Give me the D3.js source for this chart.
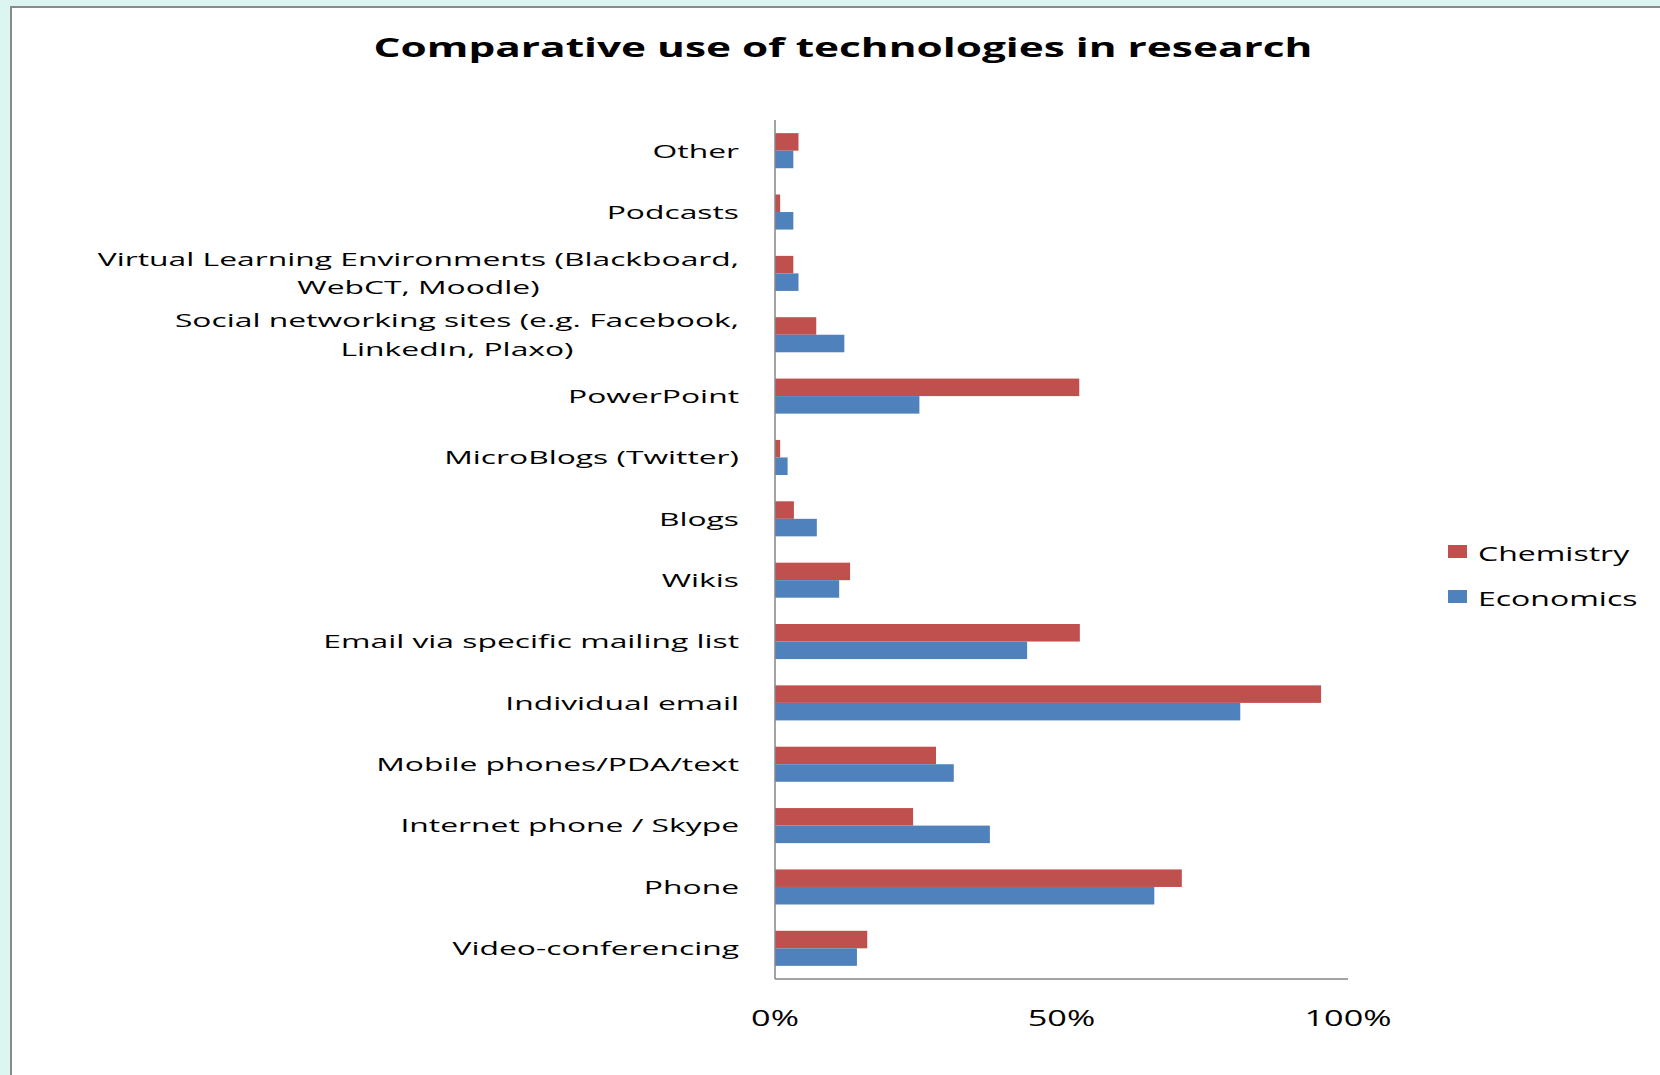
<!DOCTYPE html>
<html>
<head>
<meta charset="utf-8">
<script src="https://cdn.jsdelivr.net/npm/d3@7"></script>
<style>
  html, body { margin: 0; padding: 0; background: #ddf5f1; }
  svg { display: block; }
  text { font-family: "Open Sans", "Liberation Sans", sans-serif; fill: #000; }
</style>
</head>
<body>
<svg id="chart" width="1660" height="1075"></svg>
<script>
// Technologies, top to bottom ("\n" marks a line break in the label)
const categories = [
  "Other",
  "Podcasts",
  "Virtual Learning Environments (Blackboard,\nWebCT, Moodle)",
  "Social networking sites (e.g. Facebook,\nLinkedIn, Plaxo)",
  "PowerPoint",
  "MicroBlogs (Twitter)",
  "Blogs",
  "Wikis",
  "Email via specific mailing list",
  "Individual email",
  "Mobile phones/PDA/text",
  "Internet phone / Skype",
  "Phone",
  "Video-conferencing"
];

// Share of respondents using each technology (%)
const chemistry = [4.1, 0.9, 3.2, 7.2, 53.1, 0.9, 3.3, 13.1, 53.2, 95.3, 28.1, 24.1, 71.0, 16.1];
const economics = [3.2, 3.2, 4.1, 12.1, 25.2, 2.2, 7.3, 11.2, 44.0, 81.2, 31.2, 37.5, 66.2, 14.3];

const seriesNames = ["Chemistry", "Economics"];
const seriesColors = ["#C0504D", "#4F81BD"];
const xTicks = [0, 50, 100];
const title = "Comparative use of technologies in research";

const svg = d3.select("#chart");

// white chart panel with a grey frame
svg.append("rect")
  .attr("x", 11).attr("y", 7)
  .attr("width", 1700).attr("height", 1100)
  .attr("fill", "#fff")
  .attr("stroke", "#8a8a8a")
  .attr("stroke-width", 2);

const plot = { left: 775, right: 1348, top: 120, bottom: 979 };
// horizontal widening of the wide-set lettering
const stretchLabel = 1.675;
const stretchTick = 1.63;
const stretchTitle = 1.63;
const stretchLegend = 1.6;

const x = d3.scaleLinear().domain([0, 100]).range([plot.left, plot.right]);
const y = d3.scaleBand().domain(d3.range(categories.length))
  .range([plot.top, plot.bottom]).padding(0);
const ySub = d3.scaleBand().domain(seriesNames)
  .range([0, y.bandwidth()]).paddingInner(0).paddingOuter(0.75);

const rows = categories.map((c, i) => ({ i, values: [chemistry[i], economics[i]] }));

// bars
const groups = svg.append("g").selectAll("g").data(rows).join("g")
  .attr("transform", d => `translate(0,${y(d.i)})`);
groups.selectAll("rect")
  .data(d => d.values.map((v, k) => ({ v, k })))
  .join("rect")
  .attr("x", x(0))
  .attr("y", d => ySub(seriesNames[d.k]))
  .attr("width", d => x(d.v) - x(0))
  .attr("height", ySub.bandwidth())
  .attr("fill", d => seriesColors[d.k]);

// axis lines
svg.append("line")
  .attr("x1", plot.left).attr("x2", plot.left)
  .attr("y1", plot.top).attr("y2", plot.bottom)
  .attr("stroke", "#868686").attr("stroke-width", 1.5);
svg.append("line")
  .attr("x1", plot.left).attr("x2", plot.right)
  .attr("y1", plot.bottom).attr("y2", plot.bottom)
  .attr("stroke", "#868686").attr("stroke-width", 1.5);

// category labels
const labelX = 739;
const lineH = 28.5;
const catLabels = svg.append("g").attr("font-size", 19);
categories.forEach((c, i) => {
  const lines = c.split("\n");
  const cy = y(i) + y.bandwidth() / 2;
  const g = catLabels.append("g")
    .attr("transform", `translate(${labelX},${cy}) scale(${stretchLabel},1)`);
  if (lines.length === 1) {
    g.append("text").attr("text-anchor", "end").attr("dy", "0.36em").text(lines[0]);
  } else {
    // two-line labels are centred on each other, right edge on labelX
    const t0 = g.append("text").attr("text-anchor", "end")
      .attr("y", -lineH / 2).attr("dy", "0.36em").text(lines[0]);
    const w0 = t0.node().getComputedTextLength();
    g.append("text").attr("text-anchor", "middle")
      .attr("x", -w0 / 2).attr("y", lineH / 2).attr("dy", "0.36em").text(lines[1]);
  }
});

// x tick labels
const tickG = svg.append("g").attr("font-size", 21);
xTicks.forEach(t => {
  tickG.append("g")
    .attr("transform", `translate(${x(t)},1026) scale(${stretchTick},1)`)
    .append("text").attr("text-anchor", "middle").text(t + "%");
});

// title
svg.append("g")
  .attr("transform", `translate(843,57) scale(${stretchTitle},1)`)
  .append("text")
  .attr("text-anchor", "middle")
  .attr("font-size", 26)
  .attr("font-weight", "bold")
  .text(title);

// legend
const legend = svg.append("g");
seriesNames.forEach((name, k) => {
  const ly = 545 + k * 45;
  legend.append("rect")
    .attr("x", 1448).attr("y", ly)
    .attr("width", 19).attr("height", 13)
    .attr("fill", seriesColors[k]);
  legend.append("g")
    .attr("transform", `translate(1478,${ly + 16}) scale(${stretchLegend},1)`)
    .append("text").attr("font-size", 20).text(name);
});
</script>
</body>
</html>
